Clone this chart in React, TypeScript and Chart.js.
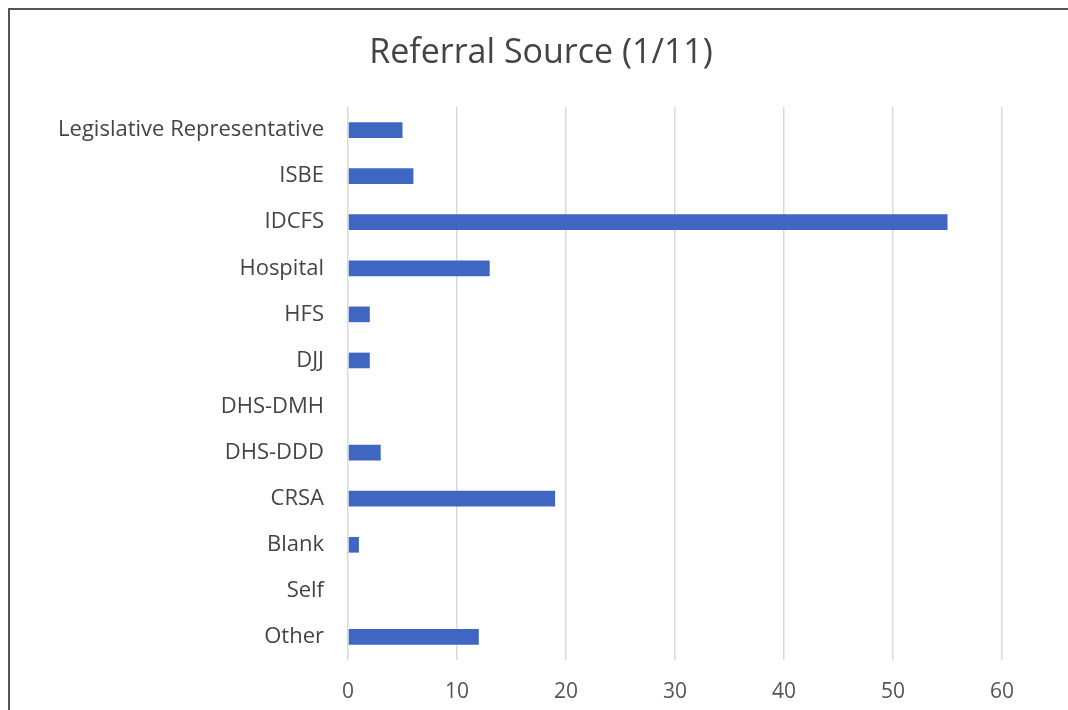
import React, { useEffect, useRef } from "react";
import { Chart, registerables } from "chart.js";

Chart.register(...registerables);

const TITLE = "Referral Source (1/11)";
const categories = [
  "Legislative Representative",
  "ISBE",
  "IDCFS",
  "Hospital",
  "HFS",
  "DJJ",
  "DHS-DMH",
  "DHS-DDD",
  "CRSA",
  "Blank",
  "Self",
  "Other",
];
const referrals = [5, 6, 55, 13, 2, 2, 0, 3, 19, 1, 0, 12];
const xMin = 0;
const xMax = 60;
const xStep = 10;

const FONT = "'Open Sans', sans-serif";

const titlePlugin = {
  id: "offsetTitle",
  afterDraw(chart: any) {
    const ctx = chart.ctx;
    ctx.save();
    ctx.font = `34px ${FONT}`;
    ctx.fillStyle = "#444444";
    ctx.textAlign = "center";
    ctx.textBaseline = "middle";
    ctx.fillText(TITLE, 541, 53);
    ctx.restore();
  },
};

export default function App() {
  const ref = useRef<HTMLCanvasElement | null>(null);

  useEffect(() => {
    if (!ref.current) return;
    const chart = new Chart(ref.current, {
      type: "bar",
      data: {
        labels: categories,
        datasets: [
          {
            label: "Referrals",
            data: referrals,
            backgroundColor: "#3f66c1",
            borderWidth: 0,
            categoryPercentage: 1,
            barPercentage: 0.34,
          },
        ],
      },
      plugins: [titlePlugin],
      options: {
        indexAxis: "y",
        animation: false,
        responsive: false,
        maintainAspectRatio: false,
        layout: { padding: { left: 0, right: 66, top: 107, bottom: 5 } },
        plugins: {
          legend: { display: false },
          tooltip: { enabled: false },
          title: { display: false },
        },
        scales: {
          x: {
            min: xMin,
            max: xMax,
            ticks: {
              stepSize: xStep,
              color: "#555555",
              font: { family: FONT, size: 21 },
              padding: 19,
            },
            grid: { color: "#d9d9d9", lineWidth: 1.5, drawTicks: false },
            border: { display: false },
            afterFit: (axis: any) => {
              axis.height = 45;
            },
          },
          y: {
            ticks: {
              color: "#444444",
              font: { family: FONT, size: 22 },
              padding: 24,
            },
            grid: { display: false, drawTicks: false },
            border: { display: false },
            afterFit: (axis: any) => {
              axis.width = 348;
            },
          },
        },
      },
    });
    return () => chart.destroy();
  }, []);

  return (
    <div style={{ position: "absolute", left: 0, top: 0, width: 1068, height: 710, background: "#fff" }}>
      <canvas ref={ref} width={1068} height={710} style={{ position: "absolute", left: 0, top: 0 }} />
      <div
        style={{
          position: "absolute",
          left: 8,
          top: 8,
          width: 1060,
          height: 702,
          borderLeft: "2px solid #555",
          borderTop: "2px solid #555",
          boxSizing: "border-box",
          pointerEvents: "none",
        }}
      />
    </div>
  );
}
